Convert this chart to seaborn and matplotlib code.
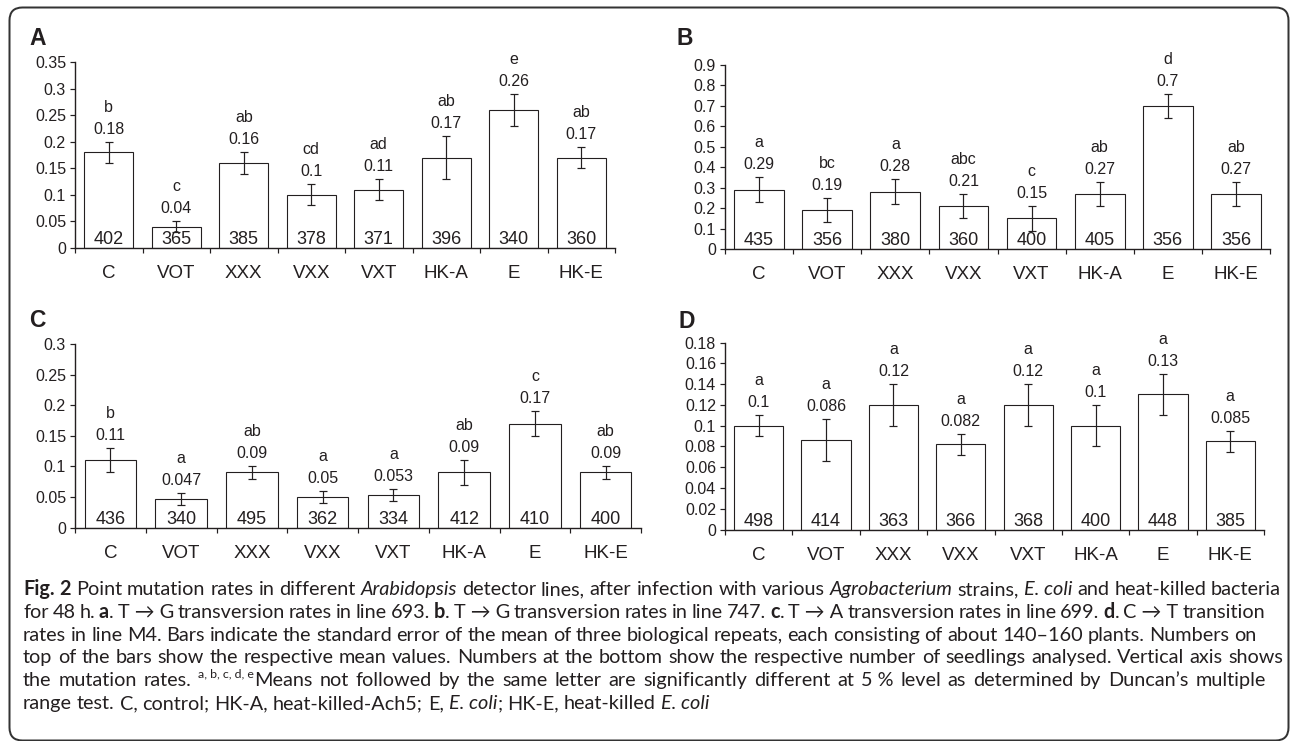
import numpy as np
import pandas as pd
import matplotlib
matplotlib.use("Agg")
import matplotlib.pyplot as plt
from matplotlib.patches import FancyBboxPatch
from matplotlib.font_manager import FontProperties
import seaborn as sns

# ---------------- data ----------------
categories = ["C", "VOT", "XXX", "VXX", "VXT", "HK-A", "E", "HK-E"]

a_means = [0.18, 0.04, 0.16, 0.10, 0.11, 0.17, 0.26, 0.17]
a_errors = [0.02, 0.01, 0.02, 0.02, 0.02, 0.04, 0.03, 0.02]
a_letters = ["b", "c", "ab", "cd", "ad", "ab", "e", "ab"]
a_counts = [402, 365, 385, 378, 371, 396, 340, 360]

b_means = [0.29, 0.19, 0.28, 0.21, 0.15, 0.27, 0.70, 0.27]
b_errors = [0.06, 0.06, 0.06, 0.06, 0.06, 0.06, 0.06, 0.06]
b_letters = ["a", "bc", "a", "abc", "c", "ab", "d", "ab"]
b_counts = [435, 356, 380, 360, 400, 405, 356, 356]

c_means = [0.11, 0.047, 0.09, 0.05, 0.053, 0.09, 0.17, 0.09]
c_errors = [0.02, 0.01, 0.01, 0.01, 0.01, 0.02, 0.02, 0.01]
c_letters = ["b", "a", "ab", "a", "a", "ab", "c", "ab"]
c_counts = [436, 340, 495, 362, 334, 412, 410, 400]

d_means = [0.10, 0.086, 0.12, 0.082, 0.12, 0.10, 0.13, 0.085]
d_errors = [0.01, 0.02, 0.02, 0.01, 0.02, 0.02, 0.02, 0.01]
d_letters = ["a", "a", "a", "a", "a", "a", "a", "a"]
d_counts = [498, 414, 363, 366, 368, 400, 448, 385]

panel_names = ["A", "B", "C", "D"]
y_max = [0.35, 0.9, 0.3, 0.18]
y_step = [0.05, 0.1, 0.05, 0.02]

caption_lines = [
    [("Fig. 2", "b"), (" Point mutation rates in different ", "n"), ("Arabidopsis", "i"),
     (" detector lines, after infection with various ", "n"), ("Agrobacterium", "i"),
     (" strains, ", "n"), ("E.\u00a0coli", "i"), (" and heat-killed bacteria", "n")],
    [("for 48 h. ", "n"), ("a", "b"), (". T\u00a0\u2192\u00a0G transversion rates in line 693. ", "n"),
     ("b", "b"), (". T\u00a0\u2192\u00a0G transversion rates in line 747. ", "n"),
     ("c", "b"), (". T\u00a0\u2192\u00a0A transversion rates in line 699. ", "n"),
     ("d", "b"), (". C\u00a0\u2192\u00a0T transition", "n")],
    [("rates in line M4. Bars indicate the standard error of the mean of three biological repeats, "
      "each consisting of about 140\u2013160 plants. Numbers on", "n")],
    [("top of the bars show the respective mean values. Numbers at the bottom show the respective "
      "number of seedlings analysed. Vertical axis shows", "n")],
    [("the mutation rates. ", "n"), ("a,\u00a0b,\u00a0c,\u00a0d,\u00a0e", "sup"),
     ("Means not followed by the same letter are significantly different at 5\u00a0% level as "
      "determined by Duncan\u2019s multiple", "n")],
    [("range test. C, control; HK-A, heat-killed-Ach5; E, ", "n"), ("E.\u00a0coli", "i"),
     ("; HK-E, heat-killed ", "n"), ("E.\u00a0coli", "i")],
]

# ---------------- style / layout ----------------
W, H, DPI = 1292, 741, 100
PT = 72.0 / DPI          # points per pixel
INK = "#231f20"

sns.set_theme(style="ticks")
plt.rcParams["font.family"] = ["Liberation Sans", "DejaVu Sans"]
plt.rcParams["text.color"] = INK
plt.rcParams["axes.edgecolor"] = INK
plt.rcParams["xtick.color"] = INK
plt.rcParams["ytick.color"] = INK

fig = plt.figure(figsize=(W / DPI, H / DPI), dpi=DPI)
fig.patch.set_facecolor("white")

bg = fig.add_axes([0, 0, 1, 1], zorder=0)
bg.set_xlim(0, W)
bg.set_ylim(H, 0)
bg.axis("off")

# outer rounded frame
bg.add_patch(FancyBboxPatch((9.5, 7.5), 1279, 733, boxstyle="round,pad=0,rounding_size=13",
                            fill=False, edgecolor="#333333", linewidth=2.0 * PT, clip_on=False))

boxes = {"A": (75, 62, 615, 248), "B": (725, 65, 1270, 249),
         "C": (75, 344, 641, 527.5), "D": (725, 342.5, 1264, 529.5)}
letter_pos = {"A": (29, 45), "B": (677, 45), "C": (29, 327), "D": (678, 328)}

series = {"A": (a_means, a_errors, a_letters, a_counts),
          "B": (b_means, b_errors, b_letters, b_counts),
          "C": (c_means, c_errors, c_letters, c_counts),
          "D": (d_means, d_errors, d_letters, d_counts)}

for name, top, step in zip(panel_names, y_max, y_step):
    means, errs, letters, counts = series[name]
    x0, y0, x1, y1 = boxes[name]
    ax = fig.add_axes([x0 / W, 1 - y1 / H, (x1 - x0) / W, (y1 - y0) / H], zorder=1)
    ax.patch.set_alpha(0)
    df = pd.DataFrame({"category": categories, "rate": means})
    sns.barplot(data=df, x="category", y="rate", order=categories, color="white",
                saturation=1, edgecolor=INK, linewidth=1.1 * PT, width=0.73,
                errorbar=None, ax=ax)
    xs = np.arange(len(categories))
    ax.errorbar(xs, means, yerr=errs, fmt="none", ecolor=INK, elinewidth=1.2 * PT,
                capsize=4 * PT, capthick=1.2 * PT, zorder=3)

    ticks = np.round(np.arange(0, top + step / 2, step), 4)
    ax.set_ylim(0, top)
    ax.set_yticks(ticks)
    ax.set_yticklabels([f"{t:g}" for t in ticks])
    ax.set_xlim(-0.5, len(categories) - 0.5)
    ax.set_xticks(np.arange(-0.5, len(categories), 1.0), minor=True)
    ax.set_xlabel("")
    ax.set_ylabel("")
    sns.despine(ax=ax)
    for s in ("left", "bottom"):
        ax.spines[s].set_linewidth(1.4 * PT)
        ax.spines[s].set_color(INK)
    ax.tick_params(axis="y", length=5 * PT, width=1.2 * PT, pad=4 * PT, labelsize=11.5)
    ax.tick_params(axis="x", which="major", length=0, pad=17 * PT, labelsize=13.5)
    ax.tick_params(axis="x", which="minor", length=5 * PT, width=1.2 * PT)

    for i, (m, e, lt, n) in enumerate(zip(means, errs, letters, counts)):
        ax.annotate(f"{m:g}", xy=(i, m + e), xytext=(0, 8 * PT), textcoords="offset points",
                    ha="center", va="baseline", fontsize=11.5)
        ax.annotate(lt, xy=(i, m + e), xytext=(0, 30 * PT), textcoords="offset points",
                    ha="center", va="baseline", fontsize=11.5)
        ax.annotate(str(n), xy=(i, 0), xytext=(0, 4 * PT), textcoords="offset points",
                    ha="center", va="baseline", fontsize=13, zorder=4)

    lx, ly = letter_pos[name]
    bg.text(lx, ly, name, fontsize=16.5, fontweight="bold", ha="left", va="baseline")

# ---------------- caption (mixed styles, ragged right as in the reference) ----------------
renderer = fig.canvas.get_renderer()
CAP_FAM = ["Lato", "DejaVu Sans"]


def fprops(style, size):
    if style == "b":
        return FontProperties(family=CAP_FAM, weight="bold", size=size)
    if style == "i":
        return FontProperties(family=CAP_FAM, style="italic", size=size)
    if style == "sup":
        return FontProperties(family=CAP_FAM, size=size * 0.62)
    return FontProperties(family=CAP_FAM, size=size)


def split_words(line):
    words = [[]]
    for text, style in line:
        parts = text.split(" ")
        for k, p in enumerate(parts):
            if k > 0:
                words.append([])
            if p:
                words[-1].append((p, style))
    return [w for w in words if w]


def measure(piece, style, size):
    t = bg.text(0, 0, piece, fontproperties=fprops(style, size))
    wpx = t.get_window_extent(renderer).width
    t.remove()
    return wpx


cap_left = 23
line_ends = [1281, 1265, 1256, 1283, 1266, None]
word_lines = [split_words(l) for l in caption_lines]


def line_widths(size):
    return [[sum(measure(p, s, size) for p, s in w) for w in words] for words in word_lines]


base = 12.0
ws_all = line_widths(base)
sp = 0.25 * base / PT
ratios = [(end - cap_left) / (sum(ws) + sp * (len(ws) - 1))
          for ws, end in zip(ws_all, line_ends) if end is not None]
size = base * float(np.median(ratios))
ws_all = line_widths(size)
space = 0.25 * size / PT

baseline0, leading = 595.0, 22.8
for li, (words, ws) in enumerate(zip(word_lines, ws_all)):
    yb = baseline0 + li * leading
    end = line_ends[li]
    if end is not None and len(words) > 1:
        gap = (end - cap_left - sum(ws)) / (len(words) - 1)
    else:
        gap = space
    x = cap_left
    for w, wwidth in zip(words, ws):
        xx = x
        for p, s in w:
            dy = -0.42 * size / PT if s == "sup" else 0
            bg.text(xx, yb + dy, p, fontproperties=fprops(s, size), ha="left", va="baseline")
            xx += measure(p, s, size)
        x += wwidth + gap

fig.savefig("out.png", dpi=DPI, facecolor="white")
